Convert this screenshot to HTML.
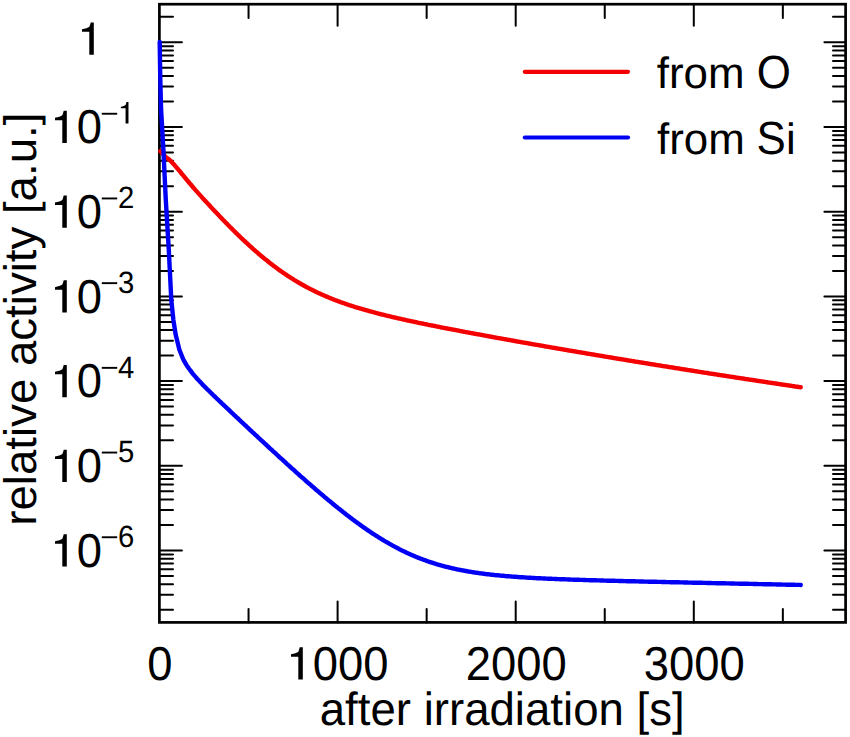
<!DOCTYPE html><html><head><meta charset="utf-8"><style>html,body{margin:0;padding:0;background:#fff;}svg{display:block}text{font-family:"Liberation Sans",sans-serif;fill:#000;text-rendering:geometricPrecision}</style></head><body>
<svg width="850" height="737" viewBox="0 0 850 737">
<rect x="0" y="0" width="850" height="737" fill="#fff"/>
<defs><path id="one" d="M0.361 0V-0.703H0.292C0.285 -0.67 0.275 -0.63 0.262 -0.609C0.235 -0.585 0.17 -0.565 0.101 -0.553V-0.498H0.262V0Z"/></defs>
<path d="M159.4 609.70h13.6M845.6 609.70h-12.6M159.4 594.79h13.6M845.6 594.79h-12.6M159.4 584.21h13.6M845.6 584.21h-12.6M159.4 576.00h13.6M845.6 576.00h-12.6M159.4 569.29h13.6M845.6 569.29h-12.6M159.4 563.62h13.6M845.6 563.62h-12.6M159.4 558.71h13.6M845.6 558.71h-12.6M159.4 554.38h13.6M845.6 554.38h-12.6M159.4 550.50h22.5M845.6 550.50h-21.2M159.4 525.00h13.6M845.6 525.00h-12.6M159.4 510.09h13.6M845.6 510.09h-12.6M159.4 499.51h13.6M845.6 499.51h-12.6M159.4 491.30h13.6M845.6 491.30h-12.6M159.4 484.59h13.6M845.6 484.59h-12.6M159.4 478.92h13.6M845.6 478.92h-12.6M159.4 474.01h13.6M845.6 474.01h-12.6M159.4 469.68h13.6M845.6 469.68h-12.6M159.4 465.80h22.5M845.6 465.80h-21.2M159.4 440.30h13.6M845.6 440.30h-12.6M159.4 425.39h13.6M845.6 425.39h-12.6M159.4 414.81h13.6M845.6 414.81h-12.6M159.4 406.60h13.6M845.6 406.60h-12.6M159.4 399.89h13.6M845.6 399.89h-12.6M159.4 394.22h13.6M845.6 394.22h-12.6M159.4 389.31h13.6M845.6 389.31h-12.6M159.4 384.98h13.6M845.6 384.98h-12.6M159.4 381.10h22.5M845.6 381.10h-21.2M159.4 355.60h13.6M845.6 355.60h-12.6M159.4 340.69h13.6M845.6 340.69h-12.6M159.4 330.11h13.6M845.6 330.11h-12.6M159.4 321.90h13.6M845.6 321.90h-12.6M159.4 315.19h13.6M845.6 315.19h-12.6M159.4 309.52h13.6M845.6 309.52h-12.6M159.4 304.61h13.6M845.6 304.61h-12.6M159.4 300.28h13.6M845.6 300.28h-12.6M159.4 296.40h22.5M845.6 296.40h-21.2M159.4 270.90h13.6M845.6 270.90h-12.6M159.4 255.99h13.6M845.6 255.99h-12.6M159.4 245.41h13.6M845.6 245.41h-12.6M159.4 237.20h13.6M845.6 237.20h-12.6M159.4 230.49h13.6M845.6 230.49h-12.6M159.4 224.82h13.6M845.6 224.82h-12.6M159.4 219.91h13.6M845.6 219.91h-12.6M159.4 215.58h13.6M845.6 215.58h-12.6M159.4 211.70h22.5M845.6 211.70h-21.2M159.4 186.20h13.6M845.6 186.20h-12.6M159.4 171.29h13.6M845.6 171.29h-12.6M159.4 160.71h13.6M845.6 160.71h-12.6M159.4 152.50h13.6M845.6 152.50h-12.6M159.4 145.79h13.6M845.6 145.79h-12.6M159.4 140.12h13.6M845.6 140.12h-12.6M159.4 135.21h13.6M845.6 135.21h-12.6M159.4 130.88h13.6M845.6 130.88h-12.6M159.4 127.00h22.5M845.6 127.00h-21.2M159.4 101.50h13.6M845.6 101.50h-12.6M159.4 86.59h13.6M845.6 86.59h-12.6M159.4 76.01h13.6M845.6 76.01h-12.6M159.4 67.80h13.6M845.6 67.80h-12.6M159.4 61.09h13.6M845.6 61.09h-12.6M159.4 55.42h13.6M845.6 55.42h-12.6M159.4 50.51h13.6M845.6 50.51h-12.6M159.4 46.18h13.6M845.6 46.18h-12.6M159.4 42.30h22.5M845.6 42.30h-21.2M159.4 16.80h13.6M845.6 16.80h-12.6M248.55 622.4v-13.4M248.55 4.2v13.9M337.60 622.4v-20.9M337.60 4.2v21.5M426.65 622.4v-13.4M426.65 4.2v13.9M515.70 622.4v-20.9M515.70 4.2v21.5M604.75 622.4v-13.4M604.75 4.2v13.9M693.80 622.4v-20.9M693.80 4.2v21.5M782.85 622.4v-13.4M782.85 4.2v13.9" stroke="#000" stroke-width="2.0" stroke-linecap="round" fill="none"/>
<rect x="159.4" y="4.2" width="686.2" height="618.2" stroke="#000" stroke-width="2.7" fill="none"/>
<polyline fill="none" stroke="#f40000" stroke-width="4.4" stroke-linejoin="round" stroke-linecap="round" points="160.3,151.1 160.9,151.8 161.5,152.4 162.1,153.1 162.7,153.7 163.3,154.4 163.8,155.0 164.4,155.6 165.0,156.2 165.6,156.8 166.2,157.4 166.8,157.9 167.4,158.3 168.0,158.7 168.6,159.1 169.2,159.5 169.7,160.0 170.3,160.6 170.9,161.3 171.5,161.9 172.1,162.5 172.7,163.1 173.3,163.8 173.9,164.4 174.5,165.1 175.1,165.7 175.6,166.4 176.2,167.1 176.8,167.8 177.4,168.5 178.0,169.2 178.6,169.9 179.2,170.6 179.8,171.3 180.4,172.0 181.0,172.7 181.5,173.5 182.1,174.2 182.7,174.9 183.3,175.6 183.9,176.3 184.5,177.1 185.1,177.8 185.7,178.5 186.3,179.2 186.9,179.9 187.4,180.6 188.0,181.3 188.6,182.0 189.2,182.7 189.8,183.4 190.4,184.1 191.0,184.8 191.6,185.5 192.2,186.2 192.8,186.9 193.3,187.6 193.9,188.2 194.5,188.9 195.1,189.6 196.0,190.6 196.9,191.6 197.8,192.6 198.7,193.6 199.6,194.6 200.5,195.6 201.4,196.6 202.2,197.6 203.1,198.6 204.0,199.5 204.9,200.5 205.8,201.5 206.7,202.4 207.6,203.4 208.5,204.4 209.4,205.3 210.3,206.3 211.1,207.3 212.0,208.2 212.9,209.2 213.8,210.1 214.7,211.1 215.6,212.0 216.5,212.9 217.4,213.9 218.3,214.8 219.2,215.8 220.1,216.7 220.9,217.6 221.8,218.5 222.7,219.5 223.6,220.4 224.5,221.3 225.4,222.2 226.3,223.1 227.2,224.0 228.1,225.0 229.0,225.9 229.8,226.8 230.7,227.7 231.6,228.5 232.5,229.4 233.4,230.3 234.3,231.2 235.2,232.1 236.1,233.0 237.0,233.8 237.9,234.7 238.8,235.6 239.6,236.4 240.5,237.3 241.4,238.1 242.3,239.0 243.2,239.8 244.1,240.6 245.0,241.5 245.9,242.3 246.8,243.1 247.7,244.0 248.6,244.8 249.4,245.6 250.3,246.4 251.2,247.2 252.1,248.0 253.0,248.8 253.9,249.6 254.8,250.4 255.7,251.2 256.6,251.9 257.5,252.7 258.3,253.5 259.2,254.2 260.1,255.0 261.0,255.7 261.9,256.5 262.8,257.2 263.7,258.0 264.6,258.7 265.5,259.4 266.4,260.1 267.3,260.8 268.1,261.6 269.0,262.3 269.9,263.0 270.8,263.7 271.7,264.3 272.6,265.0 273.5,265.7 274.4,266.4 275.3,267.0 276.2,267.7 277.0,268.4 277.9,269.0 278.8,269.7 279.7,270.3 280.6,270.9 281.5,271.6 282.4,272.2 283.3,272.8 284.2,273.4 285.1,274.0 286.0,274.6 286.8,275.2 287.7,275.8 288.6,276.4 289.5,277.0 290.4,277.5 291.3,278.1 292.2,278.7 293.1,279.2 294.0,279.8 294.9,280.3 295.7,280.9 296.6,281.4 297.5,281.9 298.4,282.5 299.3,283.0 300.2,283.5 301.1,284.0 302.0,284.5 302.9,285.0 303.8,285.5 304.7,286.0 305.5,286.5 306.4,287.0 307.3,287.4 308.2,287.9 309.1,288.4 310.0,288.8 310.9,289.3 311.8,289.7 312.7,290.2 313.6,290.6 314.4,291.1 315.3,291.5 316.2,291.9 317.1,292.4 318.0,292.8 318.9,293.2 319.8,293.6 320.7,294.0 321.6,294.4 322.5,294.8 323.4,295.2 324.2,295.6 325.1,296.0 326.0,296.4 326.9,296.7 327.8,297.1 328.7,297.5 329.6,297.8 330.5,298.2 331.4,298.6 332.3,298.9 333.1,299.3 334.0,299.6 334.9,300.0 335.8,300.3 336.7,300.6 337.6,301.0 338.5,301.3 339.4,301.6 340.3,302.0 341.2,302.3 342.1,302.6 342.9,302.9 343.8,303.2 344.7,303.5 345.6,303.9 346.5,304.2 347.4,304.5 348.3,304.8 349.2,305.1 350.1,305.3 351.0,305.6 351.8,305.9 352.7,306.2 353.6,306.5 354.5,306.8 355.4,307.1 356.3,307.3 357.2,307.6 358.1,307.9 359.0,308.1 359.9,308.4 360.8,308.7 361.6,308.9 362.5,309.2 363.4,309.5 364.3,309.7 365.2,310.0 366.1,310.2 367.0,310.5 367.9,310.7 368.8,311.0 369.7,311.2 370.5,311.5 371.4,311.7 372.3,311.9 373.2,312.2 374.1,312.4 375.0,312.6 375.9,312.9 376.8,313.1 377.7,313.3 378.6,313.6 379.5,313.8 380.3,314.0 381.2,314.3 382.1,314.5 383.0,314.7 383.9,314.9 384.8,315.1 385.7,315.4 386.6,315.6 387.5,315.8 388.4,316.0 389.2,316.2 390.1,316.4 391.0,316.6 391.9,316.9 392.8,317.1 393.7,317.3 394.6,317.5 395.5,317.7 396.4,317.9 397.3,318.1 398.2,318.3 399.0,318.5 399.9,318.7 400.8,318.9 401.7,319.1 402.6,319.3 403.5,319.5 404.4,319.7 405.3,319.9 406.2,320.1 407.1,320.3 407.9,320.5 408.8,320.7 409.7,320.9 410.6,321.1 411.5,321.3 412.4,321.4 413.3,321.6 414.2,321.8 415.1,322.0 416.0,322.2 416.9,322.4 417.7,322.6 418.6,322.8 419.5,323.0 420.4,323.1 421.3,323.3 422.2,323.5 423.1,323.7 424.0,323.9 424.9,324.1 425.8,324.2 426.7,324.4 427.5,324.6 428.4,324.8 429.3,325.0 430.2,325.1 431.1,325.3 432.0,325.5 432.9,325.7 433.8,325.9 434.7,326.0 435.6,326.2 436.4,326.4 437.3,326.6 438.2,326.7 439.1,326.9 440.0,327.1 440.9,327.3 441.8,327.5 442.7,327.6 443.6,327.8 444.5,328.0 445.4,328.1 446.2,328.3 447.1,328.5 448.0,328.7 448.9,328.8 449.8,329.0 450.7,329.2 451.6,329.4 452.5,329.5 453.4,329.7 454.3,329.9 455.1,330.0 456.0,330.2 456.9,330.4 457.8,330.5 458.7,330.7 459.6,330.9 460.5,331.1 461.4,331.2 462.3,331.4 463.2,331.6 464.1,331.7 464.9,331.9 465.8,332.1 466.7,332.2 467.6,332.4 468.5,332.6 469.4,332.7 470.3,332.9 471.2,333.1 472.1,333.2 473.0,333.4 473.8,333.6 474.7,333.7 475.6,333.9 476.5,334.1 477.4,334.2 478.3,334.4 479.2,334.5 480.1,334.7 481.0,334.9 481.9,335.0 482.8,335.2 483.6,335.4 484.5,335.5 485.4,335.7 486.3,335.9 487.2,336.0 488.1,336.2 489.0,336.3 489.9,336.5 490.8,336.7 491.7,336.8 492.5,337.0 493.4,337.2 494.3,337.3 495.2,337.5 496.1,337.6 497.0,337.8 497.9,338.0 498.8,338.1 499.7,338.3 500.6,338.4 501.5,338.6 502.3,338.8 503.2,338.9 504.1,339.1 505.0,339.2 505.9,339.4 506.8,339.6 507.7,339.7 508.6,339.9 509.5,340.0 510.4,340.2 511.2,340.4 512.1,340.5 513.0,340.7 513.9,340.8 514.8,341.0 515.7,341.2 516.6,341.3 517.5,341.5 518.4,341.6 519.3,341.8 520.2,341.9 521.0,342.1 521.9,342.3 522.8,342.4 523.7,342.6 524.6,342.7 525.5,342.9 526.4,343.0 527.3,343.2 528.2,343.4 529.1,343.5 529.9,343.7 530.8,343.8 531.7,344.0 532.6,344.1 533.5,344.3 534.4,344.5 535.3,344.6 536.2,344.8 537.1,344.9 538.0,345.1 538.9,345.2 539.7,345.4 540.6,345.5 541.5,345.7 542.4,345.9 543.3,346.0 544.2,346.2 545.1,346.3 546.0,346.5 546.9,346.6 547.8,346.8 548.6,346.9 549.5,347.1 550.4,347.3 551.3,347.4 552.2,347.6 553.1,347.7 554.0,347.9 554.9,348.0 555.8,348.2 556.7,348.3 557.6,348.5 558.4,348.6 559.3,348.8 560.2,348.9 561.1,349.1 562.0,349.2 562.9,349.4 563.8,349.6 564.7,349.7 565.6,349.9 566.5,350.0 567.3,350.2 568.2,350.3 569.1,350.5 570.0,350.6 570.9,350.8 571.8,350.9 572.7,351.1 573.6,351.2 574.5,351.4 575.4,351.5 576.3,351.7 577.1,351.8 578.0,352.0 578.9,352.1 579.8,352.3 580.7,352.4 581.6,352.6 582.5,352.7 583.4,352.9 584.3,353.0 585.2,353.2 586.0,353.3 586.9,353.5 587.8,353.6 588.7,353.8 589.6,353.9 590.5,354.1 591.4,354.2 592.3,354.4 593.2,354.5 594.1,354.7 595.0,354.8 595.8,355.0 596.7,355.1 597.6,355.3 598.5,355.4 599.4,355.6 600.3,355.7 601.2,355.9 602.1,356.0 603.0,356.2 603.9,356.3 604.8,356.5 605.6,356.6 606.5,356.8 607.4,356.9 608.3,357.1 609.2,357.2 610.1,357.4 611.0,357.5 611.9,357.7 612.8,357.8 613.7,358.0 614.5,358.1 615.4,358.3 616.3,358.4 617.2,358.6 618.1,358.7 619.0,358.9 619.9,359.0 620.8,359.2 621.7,359.3 622.6,359.4 623.5,359.6 624.3,359.7 625.2,359.9 626.1,360.0 627.0,360.2 627.9,360.3 628.8,360.5 629.7,360.6 630.6,360.8 631.5,360.9 632.4,361.1 633.2,361.2 634.1,361.3 635.0,361.5 635.9,361.6 636.8,361.8 637.7,361.9 638.6,362.1 639.5,362.2 640.4,362.4 641.3,362.5 642.2,362.7 643.0,362.8 643.9,362.9 644.8,363.1 645.7,363.2 646.6,363.4 647.5,363.5 648.4,363.7 649.3,363.8 650.2,364.0 651.1,364.1 651.9,364.3 652.8,364.4 653.7,364.5 654.6,364.7 655.5,364.8 656.4,365.0 657.3,365.1 658.2,365.3 659.1,365.4 660.0,365.5 660.9,365.7 661.7,365.8 662.6,366.0 663.5,366.1 664.4,366.3 665.3,366.4 666.2,366.5 667.1,366.7 668.0,366.8 668.9,367.0 669.8,367.1 670.6,367.3 671.5,367.4 672.4,367.5 673.3,367.7 674.2,367.8 675.1,368.0 676.0,368.1 676.9,368.3 677.8,368.4 678.7,368.5 679.6,368.7 680.4,368.8 681.3,369.0 682.2,369.1 683.1,369.3 684.0,369.4 684.9,369.5 685.8,369.7 686.7,369.8 687.6,370.0 688.5,370.1 689.3,370.2 690.2,370.4 691.1,370.5 692.0,370.7 692.9,370.8 693.8,370.9 694.7,371.1 695.6,371.2 696.5,371.4 697.4,371.5 698.3,371.6 699.1,371.8 700.0,371.9 700.9,372.1 701.8,372.2 702.7,372.3 703.6,372.5 704.5,372.6 705.4,372.8 706.3,372.9 707.2,373.0 708.0,373.2 708.9,373.3 709.8,373.5 710.7,373.6 711.6,373.7 712.5,373.9 713.4,374.0 714.3,374.2 715.2,374.3 716.1,374.4 717.0,374.6 717.8,374.7 718.7,374.8 719.6,375.0 720.5,375.1 721.4,375.3 722.3,375.4 723.2,375.5 724.1,375.7 725.0,375.8 725.9,375.9 726.7,376.1 727.6,376.2 728.5,376.4 729.4,376.5 730.3,376.6 731.2,376.8 732.1,376.9 733.0,377.0 733.9,377.2 734.8,377.3 735.7,377.5 736.5,377.6 737.4,377.7 738.3,377.9 739.2,378.0 740.1,378.1 741.0,378.3 741.9,378.4 742.8,378.5 743.7,378.7 744.6,378.8 745.4,379.0 746.3,379.1 747.2,379.2 748.1,379.4 749.0,379.5 749.9,379.6 750.8,379.8 751.7,379.9 752.6,380.0 753.5,380.2 754.4,380.3 755.2,380.4 756.1,380.6 757.0,380.7 757.9,380.9 758.8,381.0 759.7,381.1 760.6,381.3 761.5,381.4 762.4,381.5 763.3,381.7 764.1,381.8 765.0,381.9 765.9,382.1 766.8,382.2 767.7,382.3 768.6,382.5 769.5,382.6 770.4,382.7 771.3,382.9 772.2,383.0 773.1,383.1 773.9,383.3 774.8,383.4 775.7,383.5 776.6,383.7 777.5,383.8 778.4,383.9 779.3,384.1 780.2,384.2 781.1,384.3 782.0,384.5 782.9,384.6 783.7,384.7 784.6,384.9 785.5,385.0 786.4,385.1 787.3,385.3 788.2,385.4 789.1,385.5 790.0,385.7 790.9,385.8 791.8,385.9 792.6,386.1 793.5,386.2 794.4,386.3 795.3,386.5 796.2,386.6 797.1,386.7 798.0,386.8 798.9,387.0 799.8,387.1 800.7,387.2"/>
<polyline fill="none" stroke="#0000f4" stroke-width="4.4" stroke-linejoin="round" stroke-linecap="round" points="159.7,42.0 160.3,80.0 161.1,110.0 162.3,130.0 163.4,150.0 165.8,200.0 168.8,250.0 171.3,300.0 173.4,320.0 175.7,334.8 179.4,349.7 182.4,357.2 182.7,358.1 183.5,359.8 184.4,361.4 185.3,363.0 186.2,364.5 187.1,365.9 188.0,367.2 188.9,368.5 189.8,369.7 190.7,370.9 191.6,372.1 192.4,373.2 193.3,374.3 194.2,375.4 195.1,376.4 196.0,377.4 196.9,378.5 197.8,379.4 198.7,380.4 199.6,381.4 200.5,382.3 201.4,383.2 202.2,384.2 203.1,385.1 204.0,386.0 204.9,386.9 205.8,387.8 206.7,388.7 207.6,389.6 208.5,390.4 209.4,391.3 210.3,392.2 211.1,393.0 212.0,393.9 212.9,394.8 213.8,395.6 214.7,396.5 215.6,397.3 216.5,398.2 217.4,399.1 218.3,399.9 219.2,400.8 220.1,401.6 220.9,402.4 221.8,403.3 222.7,404.1 223.6,405.0 224.5,405.8 225.4,406.7 226.3,407.5 227.2,408.4 228.1,409.2 229.0,410.0 229.8,410.9 230.7,411.7 231.6,412.6 232.5,413.4 233.4,414.2 234.3,415.1 235.2,415.9 236.1,416.8 237.0,417.6 237.9,418.4 238.8,419.3 239.6,420.1 240.5,420.9 241.4,421.8 242.3,422.6 243.2,423.4 244.1,424.3 245.0,425.1 245.9,425.9 246.8,426.8 247.7,427.6 248.6,428.4 249.4,429.3 250.3,430.1 251.2,430.9 252.1,431.8 253.0,432.6 253.9,433.4 254.8,434.3 255.7,435.1 256.6,435.9 257.5,436.8 258.3,437.6 259.2,438.4 260.1,439.2 261.0,440.1 261.9,440.9 262.8,441.7 263.7,442.5 264.6,443.4 265.5,444.2 266.4,445.0 267.3,445.8 268.1,446.7 269.0,447.5 269.9,448.3 270.8,449.1 271.7,449.9 272.6,450.8 273.5,451.6 274.4,452.4 275.3,453.2 276.2,454.0 277.0,454.8 277.9,455.7 278.8,456.5 279.7,457.3 280.6,458.1 281.5,458.9 282.4,459.7 283.3,460.5 284.2,461.4 285.1,462.2 286.0,463.0 286.8,463.8 287.7,464.6 288.6,465.4 289.5,466.2 290.4,467.0 291.3,467.8 292.2,468.6 293.1,469.4 294.0,470.2 294.9,471.0 295.7,471.8 296.6,472.6 297.5,473.4 298.4,474.2 299.3,475.0 300.2,475.8 301.1,476.6 302.0,477.4 302.9,478.1 303.8,478.9 304.7,479.7 305.5,480.5 306.4,481.3 307.3,482.1 308.2,482.9 309.1,483.6 310.0,484.4 310.9,485.2 311.8,486.0 312.7,486.7 313.6,487.5 314.4,488.3 315.3,489.0 316.2,489.8 317.1,490.6 318.0,491.3 318.9,492.1 319.8,492.9 320.7,493.6 321.6,494.4 322.5,495.1 323.4,495.9 324.2,496.6 325.1,497.4 326.0,498.1 326.9,498.9 327.8,499.6 328.7,500.4 329.6,501.1 330.5,501.8 331.4,502.6 332.3,503.3 333.1,504.0 334.0,504.8 334.9,505.5 335.8,506.2 336.7,506.9 337.6,507.6 338.5,508.4 339.4,509.1 340.3,509.8 341.2,510.5 342.1,511.2 342.9,511.9 343.8,512.6 344.7,513.3 345.6,514.0 346.5,514.7 347.4,515.4 348.3,516.0 349.2,516.7 350.1,517.4 351.0,518.1 351.8,518.7 352.7,519.4 353.6,520.1 354.5,520.7 355.4,521.4 356.3,522.1 357.2,522.7 358.1,523.4 359.0,524.0 359.9,524.7 360.8,525.3 361.6,525.9 362.5,526.6 363.4,527.2 364.3,527.8 365.2,528.4 366.1,529.1 367.0,529.7 367.9,530.3 368.8,530.9 369.7,531.5 370.5,532.1 371.4,532.7 372.3,533.3 373.2,533.9 374.1,534.4 375.0,535.0 375.9,535.6 376.8,536.2 377.7,536.7 378.6,537.3 379.5,537.8 380.3,538.4 381.2,538.9 382.1,539.5 383.0,540.0 383.9,540.6 384.8,541.1 385.7,541.6 386.6,542.1 387.5,542.7 388.4,543.2 389.2,543.7 390.1,544.2 391.0,544.7 391.9,545.2 392.8,545.7 393.7,546.1 394.6,546.6 395.5,547.1 396.4,547.6 397.3,548.0 398.2,548.5 399.0,549.0 399.9,549.4 400.8,549.9 401.7,550.3 402.6,550.8 403.5,551.2 404.4,551.6 405.3,552.0 406.2,552.5 407.1,552.9 407.9,553.3 408.8,553.7 409.7,554.1 410.6,554.5 411.5,554.9 412.4,555.3 413.3,555.7 414.2,556.0 415.1,556.4 416.0,556.8 416.9,557.1 417.7,557.5 418.6,557.9 419.5,558.2 420.4,558.6 421.3,558.9 422.2,559.2 423.1,559.6 424.0,559.9 424.9,560.2 425.8,560.5 426.7,560.9 427.5,561.2 428.4,561.5 429.3,561.8 430.2,562.1 431.1,562.4 432.0,562.7 432.9,563.0 433.8,563.2 434.7,563.5 435.6,563.8 436.4,564.1 437.3,564.3 438.2,564.6 439.1,564.8 440.0,565.1 440.9,565.4 441.8,565.6 442.7,565.8 443.6,566.1 444.5,566.3 445.4,566.6 446.2,566.8 447.1,567.0 448.0,567.2 448.9,567.5 449.8,567.7 450.7,567.9 451.6,568.1 452.5,568.3 453.4,568.5 454.3,568.7 455.1,568.9 456.0,569.1 456.9,569.3 457.8,569.5 458.7,569.6 459.6,569.8 460.5,570.0 461.4,570.2 462.3,570.4 463.2,570.5 464.1,570.7 464.9,570.8 465.8,571.0 466.7,571.2 467.6,571.3 468.5,571.5 469.4,571.6 470.3,571.8 471.2,571.9 472.1,572.1 473.0,572.2 473.8,572.3 474.7,572.5 475.6,572.6 476.5,572.7 477.4,572.9 478.3,573.0 479.2,573.1 480.1,573.3 481.0,573.4 481.9,573.5 482.8,573.6 483.6,573.7 484.5,573.8 485.4,574.0 486.3,574.1 487.2,574.2 488.1,574.3 489.0,574.4 489.9,574.5 490.8,574.6 491.7,574.7 492.5,574.8 493.4,574.9 494.3,575.0 495.2,575.1 496.1,575.2 497.0,575.3 497.9,575.3 498.8,575.4 499.7,575.5 500.6,575.6 501.5,575.7 502.3,575.8 503.2,575.8 504.1,575.9 505.0,576.0 505.9,576.1 506.8,576.2 507.7,576.2 508.6,576.3 509.5,576.4 510.4,576.4 511.2,576.5 512.1,576.6 513.0,576.6 513.9,576.7 514.8,576.8 515.7,576.8 516.6,576.9 517.5,577.0 518.4,577.0 519.3,577.1 520.2,577.2 521.0,577.2 521.9,577.3 522.8,577.3 523.7,577.4 524.6,577.4 525.5,577.5 526.4,577.6 527.3,577.6 528.2,577.7 529.1,577.7 529.9,577.8 530.8,577.8 531.7,577.9 532.6,577.9 533.5,578.0 534.4,578.0 535.3,578.1 536.2,578.1 537.1,578.2 538.0,578.2 538.9,578.2 539.7,578.3 540.6,578.3 541.5,578.4 542.4,578.4 543.3,578.5 544.2,578.5 545.1,578.5 546.0,578.6 546.9,578.6 547.8,578.7 548.6,578.7 549.5,578.7 550.4,578.8 551.3,578.8 552.2,578.9 553.1,578.9 554.0,578.9 554.9,579.0 555.8,579.0 556.7,579.0 557.6,579.1 558.4,579.1 559.3,579.1 560.2,579.2 561.1,579.2 562.0,579.2 562.9,579.3 563.8,579.3 564.7,579.3 565.6,579.4 566.5,579.4 567.3,579.4 568.2,579.5 569.1,579.5 570.0,579.5 570.9,579.6 571.8,579.6 572.7,579.6 573.6,579.7 574.5,579.7 575.4,579.7 576.3,579.7 577.1,579.8 578.0,579.8 578.9,579.8 579.8,579.9 580.7,579.9 581.6,579.9 582.5,579.9 583.4,580.0 584.3,580.0 585.2,580.0 586.0,580.1 586.9,580.1 587.8,580.1 588.7,580.1 589.6,580.2 590.5,580.2 591.4,580.2 592.3,580.2 593.2,580.3 594.1,580.3 595.0,580.3 595.8,580.3 596.7,580.4 597.6,580.4 598.5,580.4 599.4,580.4 600.3,580.5 601.2,580.5 602.1,580.5 603.0,580.5 603.9,580.6 604.8,580.6 605.6,580.6 606.5,580.6 607.4,580.7 608.3,580.7 609.2,580.7 610.1,580.7 611.0,580.7 611.9,580.8 612.8,580.8 613.7,580.8 614.5,580.8 615.4,580.9 616.3,580.9 617.2,580.9 618.1,580.9 619.0,581.0 619.9,581.0 620.8,581.0 621.7,581.0 622.6,581.0 623.5,581.1 624.3,581.1 625.2,581.1 626.1,581.1 627.0,581.2 627.9,581.2 628.8,581.2 629.7,581.2 630.6,581.2 631.5,581.3 632.4,581.3 633.2,581.3 634.1,581.3 635.0,581.3 635.9,581.4 636.8,581.4 637.7,581.4 638.6,581.4 639.5,581.5 640.4,581.5 641.3,581.5 642.2,581.5 643.0,581.5 643.9,581.6 644.8,581.6 645.7,581.6 646.6,581.6 647.5,581.6 648.4,581.7 649.3,581.7 650.2,581.7 651.1,581.7 651.9,581.7 652.8,581.8 653.7,581.8 654.6,581.8 655.5,581.8 656.4,581.8 657.3,581.9 658.2,581.9 659.1,581.9 660.0,581.9 660.9,581.9 661.7,582.0 662.6,582.0 663.5,582.0 664.4,582.0 665.3,582.0 666.2,582.1 667.1,582.1 668.0,582.1 668.9,582.1 669.8,582.1 670.6,582.2 671.5,582.2 672.4,582.2 673.3,582.2 674.2,582.2 675.1,582.3 676.0,582.3 676.9,582.3 677.8,582.3 678.7,582.3 679.6,582.4 680.4,582.4 681.3,582.4 682.2,582.4 683.1,582.4 684.0,582.5 684.9,582.5 685.8,582.5 686.7,582.5 687.6,582.5 688.5,582.6 689.3,582.6 690.2,582.6 691.1,582.6 692.0,582.6 692.9,582.7 693.8,582.7 694.7,582.7 695.6,582.7 696.5,582.7 697.4,582.8 698.3,582.8 699.1,582.8 700.0,582.8 700.9,582.8 701.8,582.8 702.7,582.9 703.6,582.9 704.5,582.9 705.4,582.9 706.3,582.9 707.2,583.0 708.0,583.0 708.9,583.0 709.8,583.0 710.7,583.0 711.6,583.1 712.5,583.1 713.4,583.1 714.3,583.1 715.2,583.1 716.1,583.2 717.0,583.2 717.8,583.2 718.7,583.2 719.6,583.2 720.5,583.3 721.4,583.3 722.3,583.3 723.2,583.3 724.1,583.3 725.0,583.3 725.9,583.4 726.7,583.4 727.6,583.4 728.5,583.4 729.4,583.4 730.3,583.5 731.2,583.5 732.1,583.5 733.0,583.5 733.9,583.5 734.8,583.6 735.7,583.6 736.5,583.6 737.4,583.6 738.3,583.6 739.2,583.7 740.1,583.7 741.0,583.7 741.9,583.7 742.8,583.7 743.7,583.8 744.6,583.8 745.4,583.8 746.3,583.8 747.2,583.8 748.1,583.8 749.0,583.9 749.9,583.9 750.8,583.9 751.7,583.9 752.6,583.9 753.5,584.0 754.4,584.0 755.2,584.0 756.1,584.0 757.0,584.0 757.9,584.1 758.8,584.1 759.7,584.1 760.6,584.1 761.5,584.1 762.4,584.1 763.3,584.2 764.1,584.2 765.0,584.2 765.9,584.2 766.8,584.2 767.7,584.3 768.6,584.3 769.5,584.3 770.4,584.3 771.3,584.3 772.2,584.4 773.1,584.4 773.9,584.4 774.8,584.4 775.7,584.4 776.6,584.5 777.5,584.5 778.4,584.5 779.3,584.5 780.2,584.5 781.1,584.5 782.0,584.6 782.9,584.6 783.7,584.6 784.6,584.6 785.5,584.6 786.4,584.7 787.3,584.7 788.2,584.7 789.1,584.7 790.0,584.7 790.9,584.8 791.8,584.8 792.6,584.8 793.5,584.8 794.4,584.8 795.3,584.9 796.2,584.9 797.1,584.9 798.0,584.9 798.9,584.9 799.8,584.9 800.7,585.0"/>
<line x1="524.8" y1="71.8" x2="628" y2="71.8" stroke="#f40000" stroke-width="4.2" stroke-linecap="round"/>
<line x1="524.8" y1="137.5" x2="628" y2="137.5" stroke="#0000f4" stroke-width="4.2" stroke-linecap="round"/>
<text transform="translate(656.79,87.80) scale(1,1.0)" font-size="43.9">from</text>
<text transform="translate(756.78,87.80) scale(1,1.06)" font-size="43.9">O</text>
<text transform="translate(656.99,153.60) scale(1,1.0)" font-size="43.9">from</text>
<text transform="translate(756.38,153.60) scale(1,1.06)" font-size="43.9">S</text>
<text transform="translate(785.96,153.60) scale(1,1.0)" font-size="43.9">i</text>
<use href="#one" transform="translate(77.41,54.70) scale(45.40,45.85)"/>
<use href="#one" transform="translate(50.41,143.10) scale(45.40,45.85)"/>
<text transform="translate(76.73,143.10) scale(1,1.05)" font-size="45.4">0</text>
<rect x="101.8" y="112.80" width="15.4" height="1.9"/>
<use href="#one" transform="translate(117.90,123.50) scale(29.30,30.47)"/>
<use href="#one" transform="translate(50.41,227.80) scale(45.40,45.85)"/>
<text transform="translate(76.73,227.80) scale(1,1.05)" font-size="45.4">0</text>
<rect x="101.8" y="197.50" width="15.4" height="1.9"/>
<text transform="translate(117.90,208.20) scale(1,1.05)" font-size="29.3">2</text>
<use href="#one" transform="translate(50.41,312.50) scale(45.40,45.85)"/>
<text transform="translate(76.73,312.50) scale(1,1.05)" font-size="45.4">0</text>
<rect x="101.8" y="282.20" width="15.4" height="1.9"/>
<text transform="translate(117.90,292.90) scale(1,1.05)" font-size="29.3">3</text>
<use href="#one" transform="translate(50.41,397.20) scale(45.40,45.85)"/>
<text transform="translate(76.73,397.20) scale(1,1.05)" font-size="45.4">0</text>
<rect x="101.8" y="366.90" width="15.4" height="1.9"/>
<text transform="translate(117.90,377.60) scale(1,1.05)" font-size="29.3">4</text>
<use href="#one" transform="translate(50.41,481.90) scale(45.40,45.85)"/>
<text transform="translate(76.73,481.90) scale(1,1.05)" font-size="45.4">0</text>
<rect x="101.8" y="451.60" width="15.4" height="1.9"/>
<text transform="translate(117.90,462.30) scale(1,1.05)" font-size="29.3">5</text>
<use href="#one" transform="translate(50.41,566.60) scale(45.40,45.85)"/>
<text transform="translate(76.73,566.60) scale(1,1.05)" font-size="45.4">0</text>
<rect x="101.8" y="536.30" width="15.4" height="1.9"/>
<text transform="translate(117.90,547.00) scale(1,1.05)" font-size="29.3">6</text>
<text transform="translate(147.18,679.60) scale(1,1.05)" font-size="45.4">0</text>
<use href="#one" transform="translate(286.42,679.60) scale(45.40,45.85)"/>
<text transform="translate(312.66,679.60) scale(1,1.05)" font-size="45.4">000</text>
<text transform="translate(465.72,679.60) scale(1,1.05)" font-size="45.4">2000</text>
<text transform="translate(643.72,679.60) scale(1,1.05)" font-size="45.4">3000</text>
<text transform="translate(502.20,724.80) scale(1,1.02)" font-size="45.6" text-anchor="middle">after irradiation [s]</text>
<text transform="translate(36,319.2) rotate(-90) scale(1,1.0)" font-size="45.6" text-anchor="middle">relative activity [a.u.]</text>
</svg></body></html>
